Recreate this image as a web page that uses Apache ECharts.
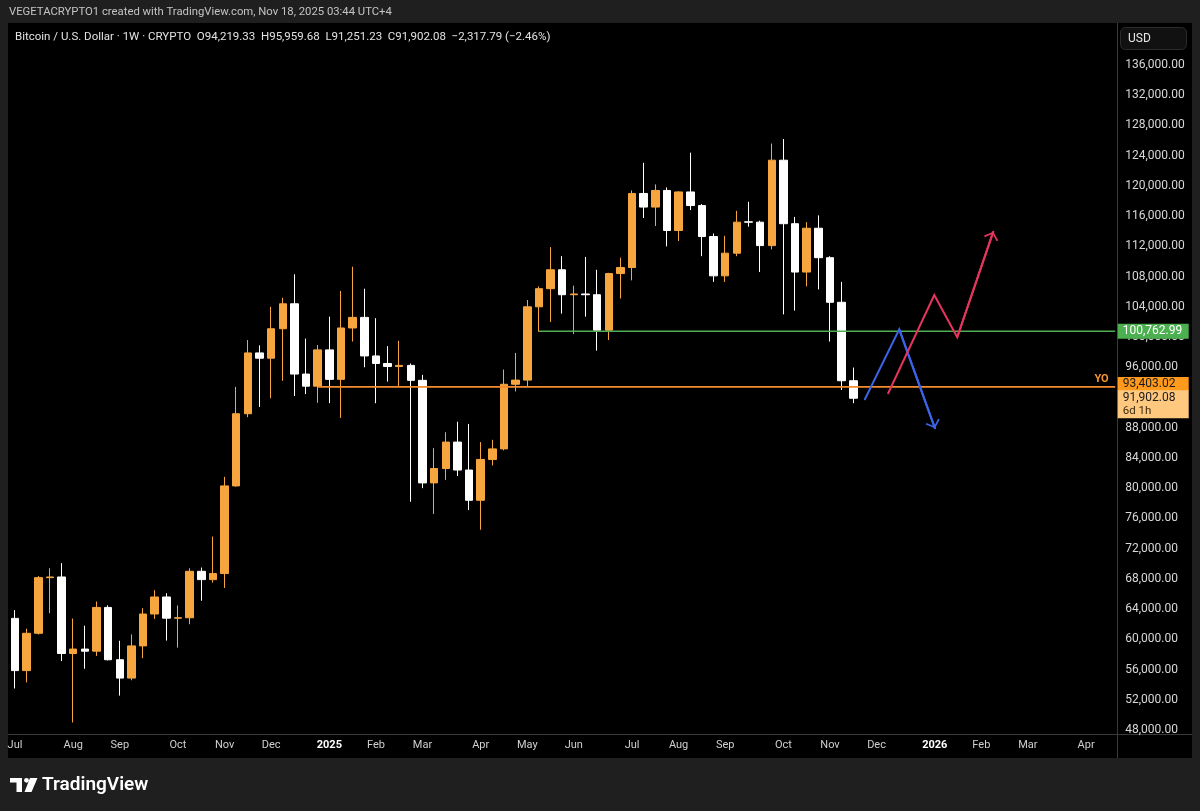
<!DOCTYPE html>
<html>
<head>
<meta charset="utf-8">
<script src="https://cdn.jsdelivr.net/npm/echarts@6/dist/echarts.min.js"></script>
<style>
html,body{margin:0;padding:0;background:#1f1f1f;}
#chart{width:1200px;height:811px;}
</style>
</head>
<body>
<div id="chart"></div>
<script>
// ---------- DATA ----------
const startDateUTC = [2024, 6, 1];   // first weekly bar: Mon 1 Jul 2024
const weekCount = 95;                // visible weekly slots (incl. empty future)
const tickWeeks  = [0,5,9,14,18,22,27,31,35,40,44,48,53,57,61,66,70,74,79,83,87,92];
const tickLabels = ['Jul','Aug','Sep','Oct','Nov','Dec','2025','Feb','Mar','Apr','May','Jun','Jul','Aug','Sep','Oct','Nov','Dec','2026','Feb','Mar','Apr'];

const openPrices = [62770,55860,60800,68160,68250,58120,58710,58430,64220,57300,
  54870,59130,63350,65600,62800,62850,69000,67900,68700,80300,
  89850,97900,97200,101100,104400,95100,93500,98300,94400,101200,
  102600,97500,96500,96100,96250,94270,80700,82600,86100,82400,
  78400,83800,85200,93750,94300,104000,106400,108900,105600,105700,
  105600,100900,108400,109200,119000,117200,119400,114100,119200,117400,
  113300,108100,111100,115250,115200,112100,123400,115000,108600,114400,
  110500,104600,94219.33];
const closePrices = [55860,60800,68160,68250,58120,58710,58430,64220,57300,54870,
  59130,63350,65600,62800,62850,69000,67900,68700,80300,89850,
  97900,97200,101100,104400,95100,93500,98300,94400,101200,102600,
  97500,96500,96100,96250,94270,80700,82600,86100,82400,78400,
  83800,85200,93750,94300,104000,106400,108900,105600,105700,105600,
  100900,108400,109200,119000,117200,119400,114100,119200,117400,113300,
  108100,111100,115200,115200,112100,123400,115000,108600,114400,110500,
  104600,94219.33,91902.08];
const lowPrices = [53490,54300,60630,63450,57120,49000,56100,57800,57200,52550,
  54580,57500,62700,59830,58900,62000,65100,67500,66800,80200,
  89400,90750,91900,94200,92200,92450,91300,91250,89300,99400,
  96000,91250,94100,93400,78200,80000,76600,81100,81600,77100,
  74500,83000,85000,92800,93400,100700,102000,103100,100400,102700,
  98200,99600,105100,107500,115750,114700,112000,112700,116800,110700,
  107300,107300,110700,114600,108600,111600,103000,103500,106700,106300,
  99400,93000,91251.23];
const highPrices = [63860,61400,68370,69400,70080,62750,61800,65000,64500,59810,
  60650,64130,66500,66100,64480,69400,69500,73600,81500,93400,
  99600,98900,104000,105200,108300,99800,98950,102700,106100,109300,
  106400,102500,98800,99500,96500,95000,85300,87400,88800,88500,
  86100,86400,95700,97900,104900,106700,111900,110700,106800,110600,
  108900,108500,110500,119400,123050,120200,119800,119300,124400,117600,
  113700,113400,116700,117900,115400,125600,126200,115900,115200,116100,
  110700,107300,95959.68];

const greenLevel = 100762.99;  const greenStartWeek = 45;
const yearlyOpen = 93403.02;   const yoStartWeek = 26;
const lastPrice = 91902.08;    const barCountdown = '6d 1h';

const blueWeeks  = [73.0, 75.95, 79.02];
const bluePrices = [91762, 101025, 87924];
const redWeeks   = [75.0, 78.96, 80.93, 84.03];
const redPrices  = [92556, 105564, 99967, 113941];

const priceMin = 48000, priceMax = 140000, priceStep = 4000;

// ---------- BUILD ----------
const FONT = 'Roboto, "Noto Sans", sans-serif';
const weekDates = [];
for (let i = 0; i < weekCount; i++) {
  const d = new Date(Date.UTC(startDateUTC[0], startDateUTC[1], startDateUTC[2]) + i * 7 * 86400000);
  weekDates.push(d.toISOString().slice(0, 10));
}
const tickMap = {};
tickWeeks.forEach((w, i) => { tickMap[w] = tickLabels[i]; });
const candleData = openPrices.map((o, i) => [o, closePrices[i], lowPrices[i], highPrices[i]]);
const xMaxValue = weekCount - 0.5;
const fmt = v => v.toLocaleString('en-US', {minimumFractionDigits: 2, maximumFractionDigits: 2});

const BULL = '#f7a63f', BEAR = '#ffffff';
const BLUE = '#3d64e8', RED = '#e5355c';
const ORANGE = '#f58d30', GREEN = '#4fae54';
const ARROW = 'path://M8,8.4 L16,15.4 L14.6,16.8 L8,10.8 L1.4,16.8 L0,15.4 Z M8,0 L8.05,0 L8,0.05 Z';

function projection(weeks, prices, color) {
  const n = weeks.length;
  return {
    type: 'line', xAxisIndex: 1, yAxisIndex: 0, silent: true,
    data: weeks.map((w, i) => [w, prices[i]]),
    symbol: 'none',
    lineStyle: {color: color, width: 2, join: 'miter', cap: 'round'},
    z: 5,
    markLine: {
      silent: true, animation: false,
      symbol: ['none', ARROW], symbolSize: [15, 16],
      label: {show: false},
      lineStyle: {color: color, width: 2, type: 'solid'},
      emphasis: {disabled: true},
      data: [[{coord: [weeks[n - 2], prices[n - 2]]}, {coord: [weeks[n - 1], prices[n - 1]]}]]
    }
  };
}

const chart = echarts.init(document.getElementById('chart'), null, {renderer: 'canvas', width: 1200, height: 811});

const tagLabel = (extra) => Object.assign({show: true, position: 'right', distance: 2, opacity: 1,
  padding: [1, 5, 1, 5], width: 61, fontSize: 12, fontFamily: FONT}, extra);

const option = {
  backgroundColor: '#1f1f1f',
  animation: false,
  textStyle: {fontFamily: FONT},
  grid: {left: 9.2, top: 34.77, width: 1106, height: 695.23, containLabel: false},
  xAxis: [
    {
      type: 'category', data: weekDates, boundaryGap: true,
      axisLine: {show: false}, axisTick: {show: false}, splitLine: {show: false},
      axisLabel: {
        interval: (idx) => tickMap[idx] !== undefined,
        margin: 9.5,
        formatter: (val, idx) => {
          const t = tickMap[idx];
          if (t === undefined) return '';
          return /^\d{4}$/.test(t) ? '{y|' + t + '}' : '{m|' + t + '}';
        },
        rich: {
          m: {color: '#cfcfcf', fontSize: 11, fontFamily: FONT},
          y: {color: '#ffffff', fontSize: 11, fontWeight: 'bold', fontFamily: FONT}
        }
      }
    },
    {type: 'value', min: -0.5, max: xMaxValue, show: false}
  ],
  yAxis: [{
    type: 'value', position: 'right', min: priceMin, max: priceMax, interval: priceStep,
    axisLine: {show: false}, axisTick: {show: false}, splitLine: {show: false},
    axisLabel: {margin: 10, color: '#d8d8d8', fontSize: 12, fontFamily: FONT,
      showMaxLabel: false, formatter: v => fmt(v)}
  }],
  series: [
    {
      type: 'candlestick', xAxisIndex: 0, yAxisIndex: 0, data: candleData,
      barWidth: 8, silent: true,
      itemStyle: {color: BULL, color0: BEAR, borderColor: BULL, borderColor0: BEAR, borderWidth: 1}
    },
    {
      type: 'line', xAxisIndex: 1, yAxisIndex: 0, silent: true, symbol: 'none', z: 3,
      data: [[yoStartWeek, yearlyOpen], [xMaxValue, yearlyOpen]],
      lineStyle: {color: ORANGE, width: 1.8}
    },
    {
      type: 'line', xAxisIndex: 1, yAxisIndex: 0, silent: true, symbol: 'none', z: 3,
      data: [[greenStartWeek, greenLevel], [xMaxValue, greenLevel]],
      lineStyle: {color: GREEN, width: 1.4}
    },
    projection(blueWeeks, bluePrices, BLUE),
    projection(redWeeks, redPrices, RED),
    {
      type: 'scatter', xAxisIndex: 1, yAxisIndex: 0, silent: true, clip: false, z: 10,
      symbolSize: 1, itemStyle: {color: 'rgba(0,0,0,0)', opacity: 1},
      emphasis: {disabled: true},
      data: [
        {value: [xMaxValue, greenLevel], label: tagLabel({
          formatter: fmt(greenLevel), backgroundColor: '#4caf50', color: '#ffffff', padding: [2, 5, 1, 5]})},
        {value: [xMaxValue, yearlyOpen], label: tagLabel({offset: [0, -3],
          formatter: fmt(yearlyOpen), backgroundColor: '#ff9a1c', color: '#1a1a1a'})},
        {value: [xMaxValue, lastPrice], label: tagLabel({offset: [0, 6],
          formatter: '{p|' + fmt(lastPrice) + '}\n{t|' + barCountdown + '}', backgroundColor: '#ffc87f',
          rich: {p: {color: '#1a1a1a', fontSize: 12, lineHeight: 13, fontFamily: FONT},
                 t: {color: '#3b2a12', fontSize: 11.5, lineHeight: 13, fontFamily: FONT}}})},
        {value: [xMaxValue, yearlyOpen], label: {show: true, position: 'left', distance: 6, offset: [0, -8], opacity: 1,
          formatter: 'YO', color: '#f7952f', fontSize: 11, fontWeight: 'bold', fontFamily: FONT}}
      ]
    }
  ],
  graphic: [
    {type: 'rect', z: -10, silent: true, shape: {x: 8, y: 23, width: 1184, height: 735}, style: {fill: '#000000'}},
    {type: 'line', z: -5, silent: true, shape: {x1: 1117.5, y1: 23, x2: 1117.5, y2: 758}, style: {stroke: '#3a3a3a', lineWidth: 1}},
    {type: 'line', z: -5, silent: true, shape: {x1: 8, y1: 734.5, x2: 1192, y2: 734.5}, style: {stroke: '#3a3a3a', lineWidth: 1}},
    {type: 'rect', z: -4, silent: true, shape: {x: 1120.5, y: 27.5, width: 66, height: 22, r: 5}, style: {fill: '#111111', stroke: '#2c2c2c', lineWidth: 1}},
    {type: 'text', z: 20, silent: true, style: {text: 'USD', x: 1128, y: 38.5, fill: '#e6e6e6', font: '12px ' + FONT,
      align: 'left', verticalAlign: 'middle', textAlign: 'left', textVerticalAlign: 'middle'}},
    {type: 'text', z: 20, silent: true, style: {text: 'VEGETACRYPTO1 created with TradingView.com, Nov 18, 2025 03:44 UTC+4',
      x: 9, y: 12, fill: '#c4c4c4', font: '11.3px ' + FONT, align: 'left', verticalAlign: 'middle', textAlign: 'left', textVerticalAlign: 'middle'}},
    {type: 'text', z: 20, silent: true, style: {text: 'Bitcoin / U.S. Dollar · 1W · CRYPTO  O94,219.33  H95,959.68  L91,251.23  C91,902.08  \u22122,317.79 (\u22122.46%)',
      x: 15, y: 37, fill: '#e2e2e2', font: '11.5px ' + FONT, align: 'left', verticalAlign: 'middle', textAlign: 'left', textVerticalAlign: 'middle'}},
    // TradingView logo
    {type: 'rect', z: 20, silent: true, shape: {x: 10, y: 778, width: 12, height: 4.5}, style: {fill: '#ffffff'}},
    {type: 'rect', z: 20, silent: true, shape: {x: 16.5, y: 778, width: 5.5, height: 14}, style: {fill: '#ffffff'}},
    {type: 'circle', z: 20, silent: true, shape: {cx: 26.5, cy: 780.3, r: 2.4}, style: {fill: '#ffffff'}},
    {type: 'polygon', z: 20, silent: true, shape: {points: [[30, 778], [37.5, 778], [31.5, 792], [24.5, 792]]}, style: {fill: '#ffffff'}},
    {type: 'text', z: 20, silent: true, style: {text: 'TradingView', x: 42, y: 785.5, fill: '#ffffff', font: '600 19px ' + FONT,
      align: 'left', verticalAlign: 'middle', textAlign: 'left', textVerticalAlign: 'middle'}}
  ]
};
chart.setOption(option);
</script>
</body>
</html>
